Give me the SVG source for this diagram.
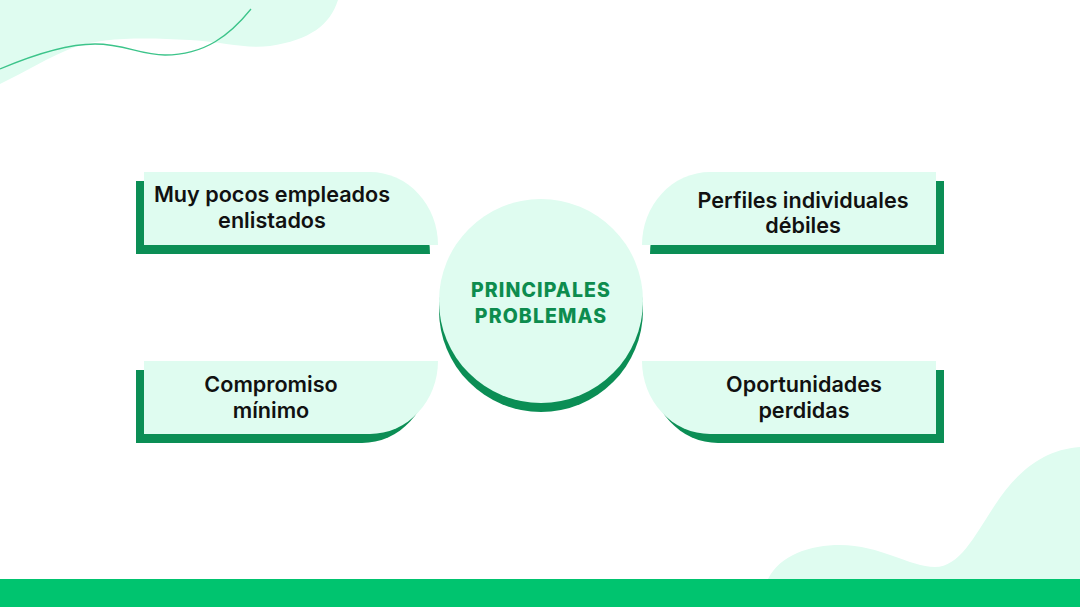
<svg xmlns="http://www.w3.org/2000/svg" width="1080" height="607" viewBox="0 0 1080 607">
<style>
.mint{fill:#dffcf0}
.shadow{fill:#0b8e55}
.lbl{font-family:Inter,"Liberation Sans",sans-serif;font-weight:600;font-size:21.6px;fill:#111111;text-anchor:middle}
.ctr{font-family:Inter,"DejaVu Sans",sans-serif;font-weight:800;font-size:19.5px;letter-spacing:1.1px;fill:#0d8c4e;text-anchor:middle}
</style>
<rect width="1080" height="607" fill="#ffffff"/>
<g id="decor">
<path class="mint" d="M0,0 H338 C330,25 310,40 270,46 C245,49 225,42 190,40 C140,37 100,38 75,47 C50,56 25,72 0,84 Z"/>
<path d="M0,69 C40,52 70,44 95,44 C125,44 140,55 165,55 C205,55 230,35 251,9" fill="none" stroke="#3cc48a" stroke-width="1.3"/>
<path class="mint" d="M768,579 C780,555 810,545 840,545 C880,545 910,567 935,567 C960,567 975,535 995,505 C1015,475 1040,450 1080,447 L1080,579 Z"/>
<rect x="0" y="579" width="1080" height="28" fill="#00c46f"/>
</g>
<g id="connectors"></g>
<g id="node-tl">
<path class="shadow" d="M136,181 H362 A68,73 0 0 1 430,254 H136 Z"/>
<path class="mint" d="M144,172 H370 A68,73 0 0 1 438,245 H144 Z"/>
<text class="lbl" x="272" y="202">Muy pocos empleados</text>
<text class="lbl" x="272" y="228">enlistados</text>
</g>
<g id="node-tr">
<path class="shadow" d="M944,181 H718 A68,73 0 0 0 650,254 H944 Z"/>
<path class="mint" d="M936,172 H710 A68,73 0 0 0 642,245 H936 Z"/>
<text class="lbl" x="803" y="208">Perfiles individuales</text>
<text class="lbl" x="803" y="233">débiles</text>
</g>
<g id="node-bl">
<path class="shadow" d="M136,370 H430 A68,73 0 0 1 362,443 H136 Z"/>
<path class="mint" d="M144,361 H438 A68,73 0 0 1 370,434 H144 Z"/>
<text class="lbl" x="271" y="392">Compromiso</text>
<text class="lbl" x="271" y="418">mínimo</text>
</g>
<g id="node-br">
<path class="shadow" d="M944,370 H650 A68,73 0 0 0 718,443 H944 Z"/>
<path class="mint" d="M936,361 H642 A68,73 0 0 0 710,434 H936 Z"/>
<text class="lbl" x="804" y="392">Oportunidades</text>
<text class="lbl" x="804" y="418">perdidas</text>
</g>
<g id="node-center">
<circle cx="541" cy="310" r="102" class="shadow"/>
<circle cx="541" cy="301" r="102" class="mint"/>
<text class="ctr" x="541" y="297">PRINCIPALES</text>
<text class="ctr" x="541" y="323">PROBLEMAS</text>
</g>
</svg>
